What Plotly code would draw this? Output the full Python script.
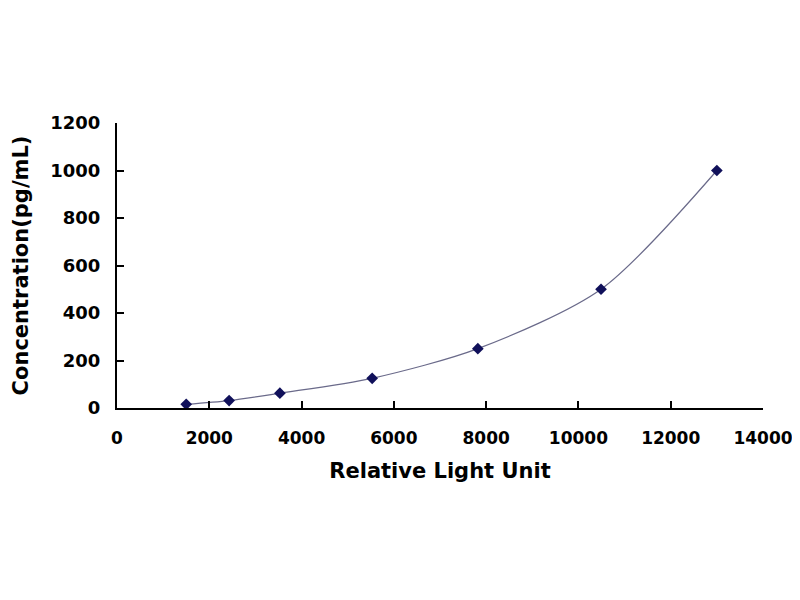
import plotly.graph_objects as go

# standard curve readings
rlu = [1500, 2430, 3530, 5530, 7820, 10490, 13000]
conc = [15.6, 31.2, 62.5, 125, 250, 500, 1000]

x_ticks = [0, 2000, 4000, 6000, 8000, 10000, 12000, 14000]
y_ticks = [0, 200, 400, 600, 800, 1000, 1200]

fig = go.Figure()

# fitted curve
fig.add_trace(go.Scatter(x=rlu, y=conc, mode="lines",
                         line=dict(color="#6a6a8a", width=1.2, shape="spline", smoothing=0.8),
                         showlegend=False, hoverinfo="skip"))
# standards
fig.add_trace(go.Scatter(x=rlu, y=conc, mode="markers",
                         marker=dict(symbol="diamond", color="#10105a", size=9),
                         showlegend=False))

xtick_font = dict(family="DejaVu Sans", size=17, color="black", weight="bold")
ytick_font = dict(family="DejaVu Sans", size=18, color="black", weight="bold")
title_font = dict(family="DejaVu Sans", size=21, color="black", weight="bold")
# page body adds an 8px offset, margins are shifted to compensate
fig.update_layout(
    width=800, height=600,
    paper_bgcolor="white", plot_bgcolor="white",
    margin=dict(l=109, r=45, t=115, b=200),
    font=dict(family="DejaVu Sans", color="black"),
    xaxis=dict(range=[0, 14000], tickvals=x_ticks, ticktext=[str(v) for v in x_ticks],
               ticks="inside", ticklen=7, tickwidth=2, ticklabelstandoff=14,
               tickcolor="black", showline=True, linecolor="black", linewidth=2,
               showgrid=False, zeroline=False, tickfont=xtick_font, automargin=False,
               title=dict(text="Relative Light Unit", font=title_font, standoff=16)),
    yaxis=dict(range=[0, 1200], tickvals=y_ticks, ticktext=[str(v) for v in y_ticks],
               ticks="inside", ticklen=7, tickwidth=2, ticklabelstandoff=11,
               tickcolor="black", showline=True, linecolor="black", linewidth=2,
               showgrid=False, zeroline=False, tickfont=ytick_font, automargin=False,
               title=dict(text="Concentration(pg/mL)", font=title_font, standoff=16)),
)

fig.write_html("out.html")
